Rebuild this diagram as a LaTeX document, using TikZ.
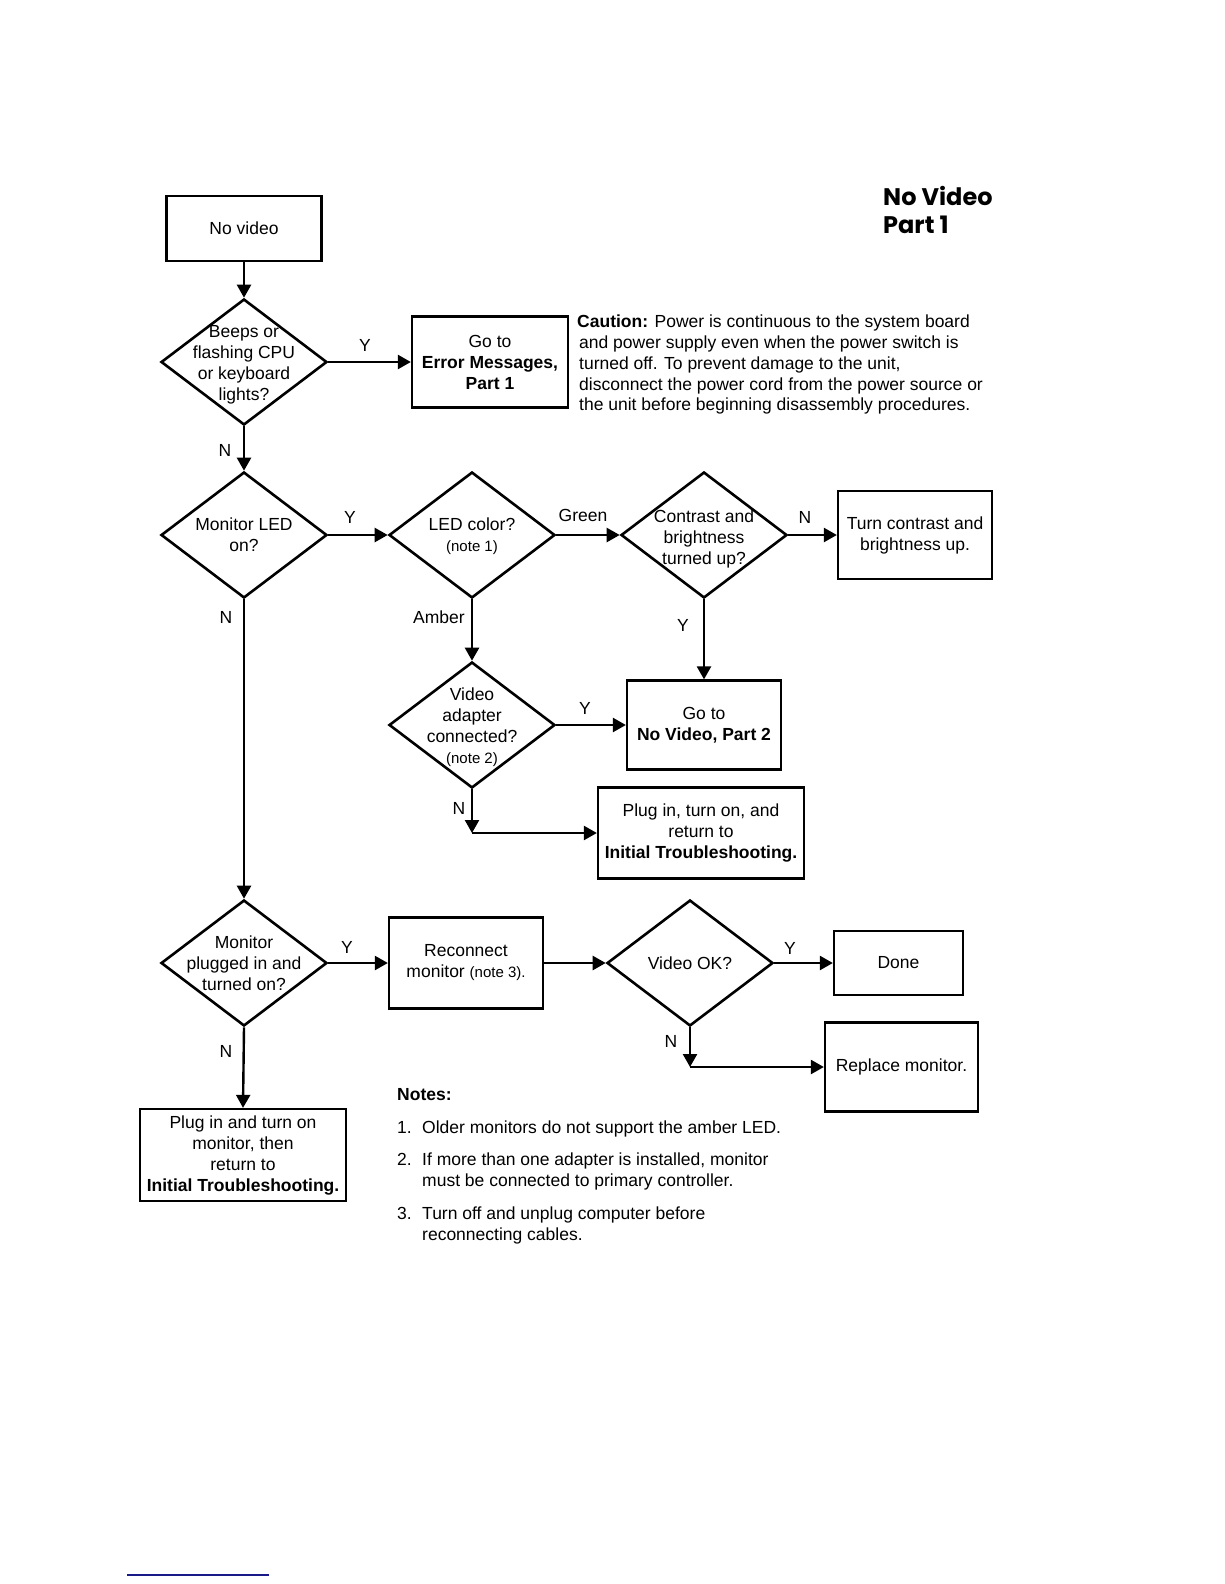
\documentclass[tikz,border=0pt]{standalone}
\usepackage{fontspec}
\setmainfont{Liberation Sans}
\newfontfamily\ttlfont{Poppins}
\usetikzlibrary{shapes.geometric,arrows.meta}
\newcommand\nrmtxt{\fontsize{17.5}{21}\selectfont}
\newcommand\smtxt{\fontsize{15}{18}\selectfont}
\definecolor{navyline}{RGB}{25,25,135}
\begin{document}
\begin{tikzpicture}[x=1pt,y=-1pt,
  box/.style={draw, line width=2.3pt, inner sep=0pt, align=center, font=\nrmtxt},
  dia/.style={draw, diamond, line width=2.6pt, minimum width=166pt, minimum height=126pt, inner sep=0pt},
  dtext/.style={align=center, font=\nrmtxt, inner sep=0pt},
  arr/.style={line width=2.4pt, -{Triangle[length=13pt,width=14pt]}},
  lbl/.style={font=\nrmtxt, inner sep=0pt},
  txt/.style={font=\nrmtxt, inner sep=0pt, anchor=base west}]
\useasboundingbox (0,0) rectangle (1224,1584);

% title
\node[font=\ttlfont\bfseries\fontsize{24}{28}\selectfont, inner sep=0pt, anchor=base west] (t1) at (883,205) {No Video};
\node[font=\ttlfont\bfseries\fontsize{24}{28}\selectfont, inner sep=0pt, anchor=base west] (t2) at (883,233) {Part 1};

% boxes
\node[box, minimum width=155pt, minimum height=65pt] (b0) at (244,228.5) {No video};
\node[box, minimum width=156pt, minimum height=91pt] (b1) at (490,362) {Go to\\\textbf{Error Messages,}\\\textbf{Part 1}};
\node[box, minimum width=154pt, minimum height=88pt] (b2) at (915,535) {Turn contrast and\\brightness up.};
\node[box, minimum width=154pt, minimum height=89pt] (b3) at (704,725) {Go to\\\textbf{No Video, Part 2}};
\node[box, minimum width=206pt, minimum height=91pt] (b4) at (701,833) {Plug in, turn on, and\\return to\\\textbf{Initial Troubleshooting.}};
\node[box, minimum width=154pt, minimum height=91pt] (b5) at (466,963) {Reconnect\\monitor {\smtxt (note 3).}};
\node[box, minimum width=129pt, minimum height=64pt] (b6) at (898.5,963) {Done};
\node[box, minimum width=153pt, minimum height=89pt] (b7) at (901.5,1067) {Replace monitor.};
\node[box, minimum width=206pt, minimum height=92pt] (b8) at (243,1155) {Plug in and turn on\\monitor, then\\return to\\\textbf{Initial Troubleshooting.}};

% diamonds
\node[dia] (d1) at (244,362) {};
\node[dtext] at ([yshift=-3pt]d1) {Beeps or\\flashing CPU\\or keyboard\\lights?};
\node[dia] (d2) at (244,535) {};
\node[dtext] at (d2) {Monitor LED\\on?};
\node[dia] (d3) at (472,535) {};
\node[dtext] at ([yshift=-1pt]d3) {LED color?\\{\smtxt (note 1)}};
\node[dia] (d5) at (704,535) {};
\node[dtext] at ([yshift=-4pt]d5) {Contrast and\\brightness\\turned up?};
\node[dia] (d4) at (472,725) {};
\node[dtext] at ([yshift=-2pt]d4) {Video\\adapter\\connected?\\{\smtxt (note 2)}};
\node[dia] (d6) at (244,963) {};
\node[dtext] at (d6) {Monitor\\plugged in and\\turned on?};
\node[dia] (d7) at (690,963) {};
\node[dtext] at (d7) {Video OK?};

% corner points
\coordinate (c4) at (472,833);
\coordinate (c7) at (690,1067);

% connectors
\draw[arr] (b0) -- (d1.north);
\draw[arr] (d1.east) -- (b1.west);
\draw[arr] (d1.south) -- (d2.north);
\draw[arr] (d2.east) -- (d3.west);
\draw[arr] (d3.east) -- (d5.west);
\draw[arr] (d5.east) -- (b2.west);
\draw[arr] (d5.south) -- (b3.north);
\draw[arr] (d3.south) -- (d4.north);
\draw[arr] (d4.east) -- (b3.west);
\draw[arr] (d4.south) -- (c4);
\draw[arr] (c4) -- (c4 -| b4.west);
\draw[arr] (d2.south) -- (d6.north);
\draw[arr] (d6.east) -- (b5.west);
\draw[arr] (b5.east) -- (d7.west);
\draw[arr] (d7.east) -- (b6.west);
\draw[arr] (d7.south) -- (c7);
\draw[arr] (c7) -- (c7 -| b7.west);
\draw[arr] (d6.south) -- (b8.north);

% labels
\node[lbl] (l1) at (365,345) {Y};
\node[lbl] (l2) at (225,450) {N};
\node[lbl] (l3) at (350,517) {Y};
\node[lbl] (l4) at (583,515) {Green};
\node[lbl] (l5) at (805,517) {N};
\node[lbl] (l6) at (683,625) {Y};
\node[lbl] (l7) at (439,617) {Amber};
\node[lbl] (l8) at (585,708) {Y};
\node[lbl] (l9) at (459,808) {N};
\node[lbl] (l10) at (226,617) {N};
\node[lbl] (l11) at (347,947) {Y};
\node[lbl] (l12) at (790,948) {Y};
\node[lbl] (l13) at (671,1041) {N};
\node[lbl] (l14) at (226,1051) {N};

% caution
\node[txt] (ca1) at (577,327) {\textbf{Caution:} Power is continuous to the system board};
\node[txt] (ca2) at (579,348) {and power supply even when the power switch is};
\node[txt] (ca3) at (579,369) {turned off. To prevent damage to the unit,};
\node[txt] (ca4) at (579,390) {disconnect the power cord from the power source or};
\node[txt] (ca5) at (579,410) {the unit before beginning disassembly procedures.};

% notes
\node[txt] (n0) at (397,1100) {\textbf{Notes:}};
\node[txt] (n1a) at (397,1133) {1.};
\node[txt] (n1) at (422,1133) {Older monitors do not support the amber LED.};
\node[txt] (n2a) at (397,1165) {2.};
\node[txt] (n2) at (422,1165) {If more than one adapter is installed, monitor};
\node[txt] (n2b) at (422,1186) {must be connected to primary controller.};
\node[txt] (n3a) at (397,1219) {3.};
\node[txt] (n3) at (422,1219) {Turn off and unplug computer before};
\node[txt] (n3b) at (422,1240) {reconnecting cables.};

% footer rule
\draw[navyline, line width=2pt] (127,1575) -- (269,1575);
\end{tikzpicture}
\end{document}
